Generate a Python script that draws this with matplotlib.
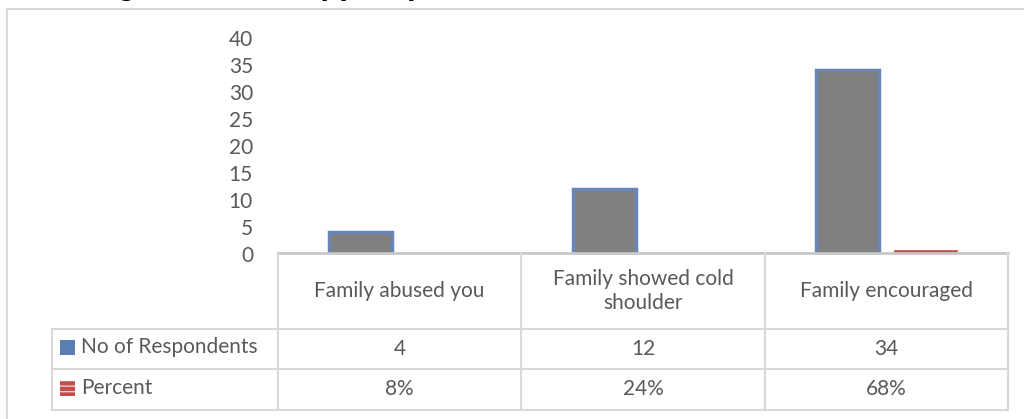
import matplotlib
matplotlib.use("Agg")
import matplotlib.pyplot as plt
from matplotlib.lines import Line2D
from matplotlib.patches import Rectangle

# ---- data ----
categories = ["Family abused you", "Family showed cold\nshoulder", "Family encouraged"]
respondents = [4, 12, 34]
percent = [0.08, 0.24, 0.68]
series_names = ["No of Respondents", "Percent"]
yticks = [0, 5, 10, 15, 20, 25, 30, 35, 40]

W, H = 1024, 419
fig = plt.figure(figsize=(W / 100, H / 100), dpi=100)
plt.rcParams['font.family'] = ['Lato', 'DejaVu Sans']

TXT = '#595959'
GRID = '#d9d9d9'
RED = '#c0504d'
FS = 15

def fx(px):
    return px / W

def fy(py):
    return 1 - py / H

# outer frame
fig.add_artist(Line2D([fx(7), fx(1024)], [fy(9), fy(9)], color=GRID, lw=1.5))
fig.add_artist(Line2D([fx(7), fx(7)], [fy(9), fy(419)], color=GRID, lw=1.5))

# partially cut title (only descenders show, as in the reference)
fig.text(fx(20), fy(-6), "Showing the attitude of family",
         fontsize=23.5, fontweight='bold', fontstyle='italic',
         family=['Liberation Serif', 'DejaVu Serif'], va='baseline', ha='left', color='black')

# plot axes
L, R, T, B = 278, 1008, 38, 254
ax = fig.add_axes([fx(L), fy(B), fx(R) - fx(L), fy(T) - fy(B)])
ax.set_xlim(-0.5, len(categories) - 0.5)
ax.set_ylim(0, 40)
for s in ax.spines.values():
    s.set_visible(False)
ax.set_xticks([])
ax.set_yticks(yticks)
ax.set_yticklabels([str(v) for v in yticks], fontsize=FS, color=TXT)
ax.tick_params(axis='y', length=0, pad=18)
ax.patch.set_alpha(0)

unit = (R - L) / len(categories)
bw = 63 / unit
off = 39 / unit
xs = list(range(len(categories)))
ax.bar([x - off for x in xs], respondents, width=bw, color='#808080',
       edgecolor='#6887b6', linewidth=2.5, zorder=3)
ax.bar([x + off for x in xs], percent, width=bw, color=RED,
       edgecolor=RED, linewidth=0.5, zorder=3)

# table lines
rows_y = [254, 329, 369, 410]
cols_x = [278, 521, 765, 1008]
lw = 1.5
fig.add_artist(Line2D([fx(278), fx(1008)], [fy(253), fy(253)], color='#c8c8c8', lw=2))
for y in rows_y[1:]:
    fig.add_artist(Line2D([fx(52), fx(1008)], [fy(y), fy(y)], color=GRID, lw=lw))
for x in cols_x:
    fig.add_artist(Line2D([fx(x), fx(x)], [fy(254), fy(410)], color=GRID, lw=lw))
fig.add_artist(Line2D([fx(52), fx(52)], [fy(329), fy(410)], color=GRID, lw=lw))

# header row
for i, c in enumerate(categories):
    cx = (cols_x[i] + cols_x[i + 1]) / 2
    fig.text(fx(cx), fy(291), c, ha='center', va='center', fontsize=FS,
             color=TXT, linespacing=1.2)

# data rows
row_vals = [[str(v) for v in respondents], [f"{p:.0%}" for p in percent]]
row_cy = [349, 389]
for r, vals in enumerate(row_vals):
    for i, v in enumerate(vals):
        cx = (cols_x[i] + cols_x[i + 1]) / 2
        fig.text(fx(cx), fy(row_cy[r]), v, ha='center', va='center',
                 fontsize=FS, color=TXT)

# legend keys
fig.add_artist(Rectangle((fx(60), fy(355)), fx(15), fy(340) - fy(355),
                         facecolor='#5b7fb1', edgecolor='none'))
fig.add_artist(Rectangle((fx(60), fy(396)), fx(15), fy(381) - fy(396),
                         facecolor=RED, edgecolor='#f0c8c6', hatch='---', lw=0))
fig.text(fx(81), fy(347), series_names[0], ha='left', va='center', fontsize=FS, color=TXT)
fig.text(fx(81), fy(388), series_names[1], ha='left', va='center', fontsize=FS, color=TXT)

fig.savefig("out.png", dpi=100)
